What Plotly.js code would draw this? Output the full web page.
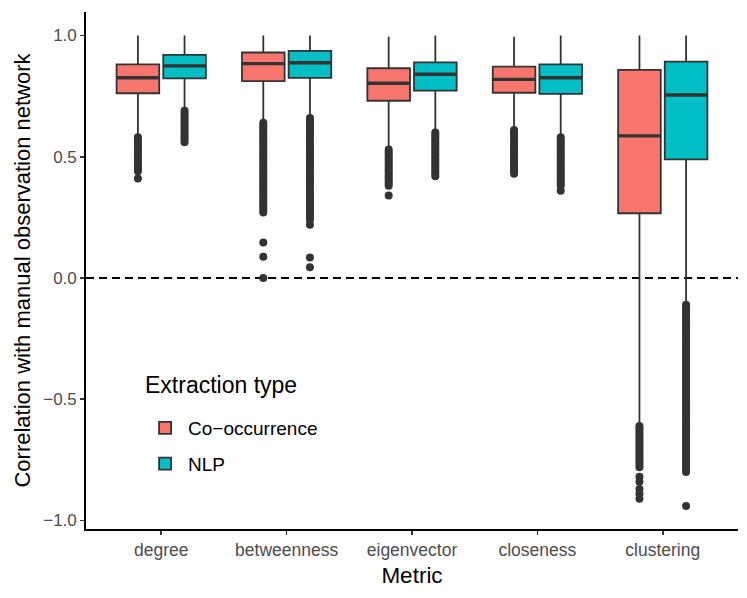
<!DOCTYPE html>
<html>
<head>
<meta charset="utf-8">
<script src="https://cdn.plot.ly/plotly-3.0.1.min.js"></script>
<style>html,body{margin:0;padding:0;background:#fff;}#chart{width:747px;height:598px;}</style>
</head>
<body>
<div id="chart"></div>
<script>
// ---- data ----
const metrics = ['degree', 'betweenness', 'eigenvector', 'closeness', 'clustering'];
const groups = ['Co\u2212occurrence', 'NLP'];

const coQ1    = [0.762, 0.812, 0.731, 0.764, 0.267];
const coMedian= [0.826, 0.884, 0.803, 0.819, 0.586];
const coQ3    = [0.881, 0.930, 0.865, 0.872, 0.858];
const coLow   = [0.59, 0.65, 0.54, 0.62, -0.60];
const coHigh  = [1.0, 1.0, 0.995, 0.995, 1.0];

const nlpQ1    = [0.823, 0.825, 0.773, 0.759, 0.489];
const nlpMedian= [0.875, 0.888, 0.840, 0.826, 0.755];
const nlpQ3    = [0.920, 0.937, 0.889, 0.881, 0.892];
const nlpLow   = [0.70, 0.67, 0.61, 0.59, -0.10];
const nlpHigh  = [1.0, 1.0, 1.0, 1.0, 1.0];

const coOutDegree = [0.58,0.57,0.56,0.55,0.54,0.53,0.52,0.51,0.50,0.49,0.48,0.47,0.46,0.45,0.44,0.41];
const coOutBetweenness = [0.64,0.63,0.62,0.61,0.60,0.59,0.58,0.57,0.56,0.55,0.54,0.53,0.52,0.51,0.50,0.49,0.48,0.47,0.46,0.45,0.44,0.43,0.42,0.41,0.40,0.39,0.38,0.37,0.36,0.35,0.34,0.33,0.32,0.31,0.30,0.29,0.28,0.27,0.146,0.088,0.0];
const coOutEigenvector = [0.53,0.52,0.51,0.50,0.49,0.48,0.47,0.46,0.45,0.44,0.43,0.42,0.41,0.40,0.39,0.38,0.34];
const coOutCloseness = [0.61,0.60,0.59,0.58,0.57,0.56,0.55,0.54,0.53,0.52,0.51,0.50,0.49,0.48,0.47,0.46,0.45,0.44,0.43];
const coOutClustering = [-0.61,-0.62,-0.63,-0.64,-0.65,-0.66,-0.67,-0.68,-0.69,-0.70,-0.71,-0.72,-0.73,-0.74,-0.75,-0.76,-0.77,-0.78,-0.82,-0.84,-0.87,-0.89,-0.91];

const nlpOutDegree = [0.69,0.68,0.67,0.66,0.65,0.64,0.63,0.62,0.61,0.60,0.59,0.58,0.57,0.56];
const nlpOutBetweenness = [0.66,0.65,0.64,0.63,0.62,0.61,0.60,0.59,0.58,0.57,0.56,0.55,0.54,0.53,0.52,0.51,0.50,0.49,0.48,0.47,0.46,0.45,0.44,0.43,0.42,0.41,0.40,0.39,0.38,0.37,0.36,0.35,0.34,0.33,0.32,0.31,0.30,0.29,0.28,0.27,0.26,0.25,0.24,0.22,0.085,0.044];
const nlpOutEigenvector = [0.60,0.59,0.58,0.57,0.56,0.55,0.54,0.53,0.52,0.51,0.50,0.49,0.48,0.47,0.46,0.45,0.44,0.43,0.42];
const nlpOutCloseness = [0.58,0.57,0.56,0.55,0.54,0.53,0.52,0.51,0.50,0.49,0.48,0.47,0.46,0.45,0.44,0.43,0.42,0.41,0.40,0.39,0.38,0.36];
const nlpOutClustering = [-0.11,-0.12,-0.13,-0.14,-0.15,-0.16,-0.17,-0.18,-0.19,-0.20,-0.21,-0.22,-0.23,-0.24,-0.25,-0.26,-0.27,-0.28,-0.29,-0.30,-0.31,-0.32,-0.33,-0.34,-0.35,-0.36,-0.37,-0.38,-0.39,-0.40,-0.41,-0.42,-0.43,-0.44,-0.45,-0.46,-0.47,-0.48,-0.49,-0.50,-0.51,-0.52,-0.53,-0.54,-0.55,-0.56,-0.57,-0.58,-0.59,-0.60,-0.61,-0.62,-0.63,-0.64,-0.65,-0.66,-0.67,-0.68,-0.69,-0.70,-0.71,-0.72,-0.73,-0.74,-0.75,-0.76,-0.77,-0.78,-0.79,-0.80,-0.94];

const yTicks = [-1.0, -0.5, 0.0, 0.5, 1.0];

// ---- build traces ----
const colors = ['#F8766D', '#00BFC4'];
const outline = '#333333';
const offset = 0.186;
const boxW = 0.34;
const pos = metrics.map((m, i) => i + 1);

const stats = [
  {q1: coQ1, med: coMedian, q3: coQ3, lo: coLow, hi: coHigh,
   out: [coOutDegree, coOutBetweenness, coOutEigenvector, coOutCloseness, coOutClustering]},
  {q1: nlpQ1, med: nlpMedian, q3: nlpQ3, lo: nlpLow, hi: nlpHigh,
   out: [nlpOutDegree, nlpOutBetweenness, nlpOutEigenvector, nlpOutCloseness, nlpOutClustering]}
];

const traces = [];
stats.forEach((s, g) => {
  const xs = pos.map(p => p + (g === 0 ? -offset : offset));
  traces.push({
    type: 'box', name: groups[g], x: xs,
    q1: s.q1, median: s.med, q3: s.q3, lowerfence: s.lo, upperfence: s.hi,
    width: boxW, whiskerwidth: 0, boxpoints: false,
    fillcolor: colors[g], line: {color: outline, width: 1.8},
    legendgroup: 'g' + g, hoverinfo: 'skip'
  });
});
stats.forEach((s, g) => {
  const xs = pos.map(p => p + (g === 0 ? -offset : offset));
  const mx = [], my = [];
  xs.forEach((x, i) => { mx.push(x - boxW / 2 + 0.004, x + boxW / 2 - 0.004, null); my.push(s.med[i], s.med[i], null); });
  traces.push({type: 'scatter', mode: 'lines', x: mx, y: my, line: {color: outline, width: 3.4},
    showlegend: false, hoverinfo: 'skip'});
  const ox = [], oy = [];
  xs.forEach((x, i) => { s.out[i].forEach(v => { ox.push(x); oy.push(v); }); });
  traces.push({type: 'scatter', mode: 'markers', x: ox, y: oy,
    marker: {color: outline, size: 8, line: {width: 0}}, showlegend: false, hoverinfo: 'skip'});
});

const font = 'Liberation Sans, Arial, sans-serif';
const layout = {
  width: 747, height: 598,
  margin: {l: 86, r: 9, t: 12, b: 69},
  paper_bgcolor: '#ffffff', plot_bgcolor: '#ffffff',
  font: {family: font, color: '#000000'},
  showlegend: true,
  boxmode: 'overlay',
  xaxis: {
    range: [0.4, 5.6], tickvals: pos, ticktext: metrics,
    showgrid: false, zeroline: false, showline: true, linecolor: '#000000', linewidth: 1.8,
    ticks: 'outside', ticklen: 4, tickwidth: 1.6, tickcolor: '#333333',
    tickfont: {family: font, size: 17.5, color: '#4D4D4D'},
    title: {text: 'Metric', font: {family: font, size: 22.5, color: '#000000'}, standoff: 8}
  },
  yaxis: {
    range: [-1.035, 1.097], tickvals: yTicks, tickformat: '.1f',
    showgrid: false, zeroline: false, showline: true, linecolor: '#000000', linewidth: 1.8,
    ticks: 'outside', ticklen: 4, tickwidth: 1.6, tickcolor: '#333333',
    tickfont: {family: font, size: 17, color: '#4D4D4D'},
    title: {text: 'Correlation with manual observation network', font: {family: font, size: 22, color: '#000000'}, standoff: 6}
  },
  shapes: [{type: 'line', xref: 'paper', x0: 0, x1: 1, yref: 'y', y0: 0, y1: 0,
    line: {color: '#000000', width: 2, dash: '8px,5px'}, layer: 'below'}],
  annotations: [{
    text: 'Extraction type', xref: 'paper', yref: 'paper', x: 0.0874, y: 0.2785,
    xanchor: 'left', yanchor: 'middle', showarrow: false,
    font: {family: font, size: 23, color: '#000000'}
  }],
  legend: {
    x: 0.086, y: 0.232, xanchor: 'left', yanchor: 'top',
    bgcolor: 'rgba(0,0,0,0)',
    font: {family: font, size: 19, color: '#000000'},
    itemwidth: 36,
    traceorder: 'grouped', tracegroupgap: 8
  }
};

Plotly.newPlot('chart', traces, layout, {displayModeBar: false, staticPlot: true});
</script>
</body>
</html>
